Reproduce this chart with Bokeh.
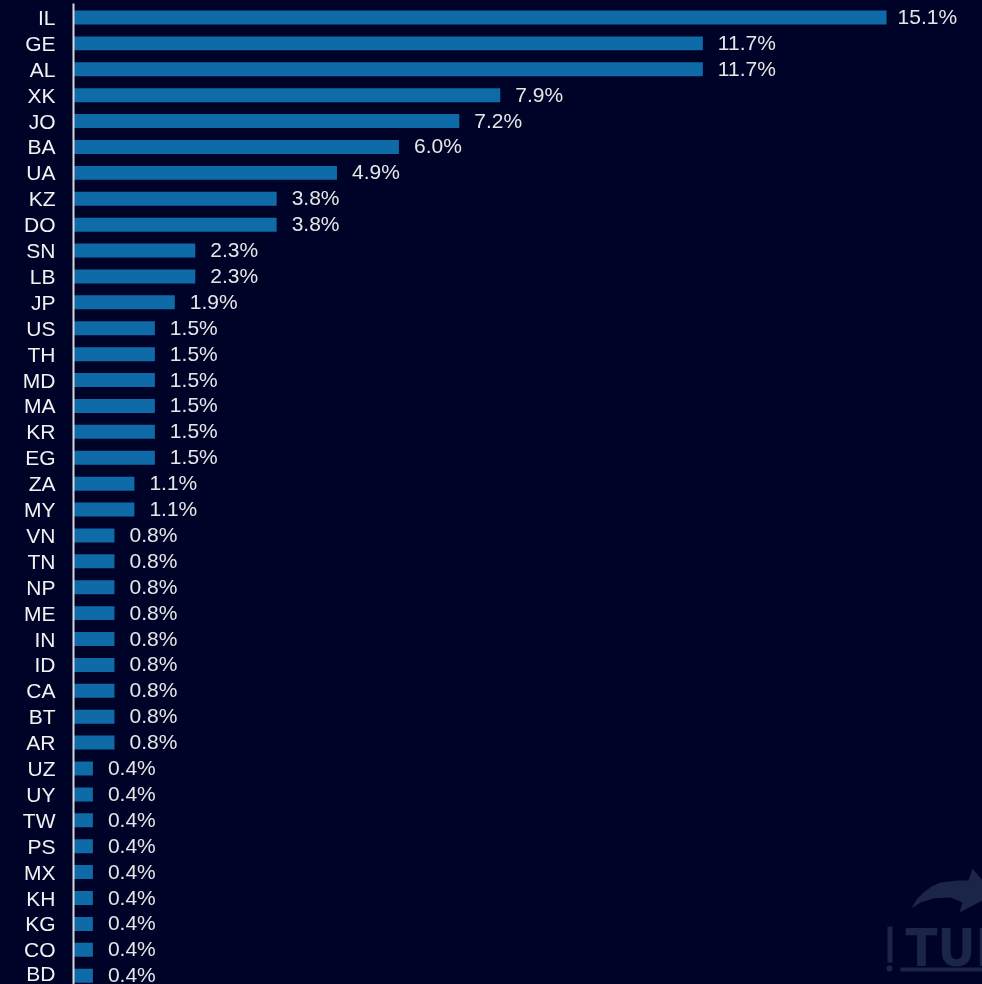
from bokeh.plotting import figure
from bokeh.models import ColumnDataSource, Range1d, FixedTicker
from bokeh.core.properties import value
from bokeh.embed import file_html
from bokeh.resources import INLINE

countries = ["IL","GE","AL","XK","JO","BA","UA","KZ","DO","SN","LB","JP","US","TH","MD","MA","KR","EG","ZA","MY",
             "VN","TN","NP","ME","IN","ID","CA","BT","AR","UZ","UY","TW","PS","MX","KH","KG","CO","BD"]
shares = [15.09,11.68,11.68,7.92,7.16,6.04,4.89,3.77,3.77,2.26,2.26,1.88,1.51,1.51,1.51,1.51,1.51,1.51,1.13,1.13,
          0.76,0.76,0.76,0.76,0.76,0.76,0.76,0.76,0.76,0.36,0.36,0.36,0.36,0.36,0.36,0.36,0.36,0.36]

BG = "#000328"
BAR = "#0e6ba8"
FONT = "Liberation Sans"

rows = list(range(len(countries)))
src = ColumnDataSource(dict(
    y=rows, v=shares,
    label=[f"{s:.1f}%" for s in shares],
    dx=[11 if s > 15 else 15 for s in shares],
))

p = figure(width=982, height=984, output_backend="svg", toolbar_location=None,
           x_range=Range1d(0, 16.87), y_range=Range1d(37.34, -0.54),
           x_axis_location=None, background_fill_color=BG, border_fill_color=BG,
           min_border_left=73, min_border_right=0, min_border_top=3, min_border_bottom=0,
           outline_line_color=None, styles={"position": "fixed", "left": "0px", "top": "0px"})
p.grid.visible = False

ax = p.yaxis[0]
ax.ticker = FixedTicker(ticks=rows)
ax.major_label_overrides = {i: c for i, c in zip(rows, countries)}
ax.major_tick_line_color = None
ax.minor_tick_line_color = None
ax.axis_line_color = "#d9d9d9"
ax.axis_line_width = 2
ax.major_label_text_color = "#f2f2f2"
ax.major_label_text_font = FONT
ax.major_label_text_font_size = "21px"
ax.major_label_standoff = 12

# watermark, drawn in page pixels
p.extra_x_ranges = {"px": Range1d(73, 982)}
p.extra_y_ranges = {"px": Range1d(984, 3)}
WM = "#1a2548"
arrow_x = [911, 916, 923, 931, 940, 957, 968, 972, 982, 982, 959, 962, 950, 933, 920]
arrow_y = [908, 899, 892, 886, 882, 880, 880, 868, 880, 900, 912, 902, 897, 898, 902]
p.patch(arrow_x, arrow_y, x_range_name="px", y_range_name="px", fill_color=WM, line_color=None)
p.quad(left=[887, 900], right=[892, 982], top=[926, 967], bottom=[962, 971],
       x_range_name="px", y_range_name="px", fill_color=WM, line_color=None)
p.scatter([889], [968], size=6, x_range_name="px", y_range_name="px", fill_color=WM, line_color=None)
p.text([905], [947], text=["TURI"], x_range_name="px", y_range_name="px", text_color=WM,
       text_font=value("DejaVu Sans Condensed"), text_font_style="bold", text_font_size="52px",
       text_baseline="alphabetic", text_align="left")

p.hbar(y="y", left=0, right="v", height=0.54, source=src, fill_color=BAR, line_color=None)
p.text(x="v", y="y", text="label", x_offset="dx", y_offset=-1, source=src, text_color="#e6e6e6",
       text_font=value(FONT), text_font_size="21px", text_align="left", text_baseline="middle")

html = file_html(p, INLINE)
html = html.replace("<head>", "<head><style>html,body{background:#000328;overflow:hidden}</style>", 1)
open("out.html", "w").write(html)
